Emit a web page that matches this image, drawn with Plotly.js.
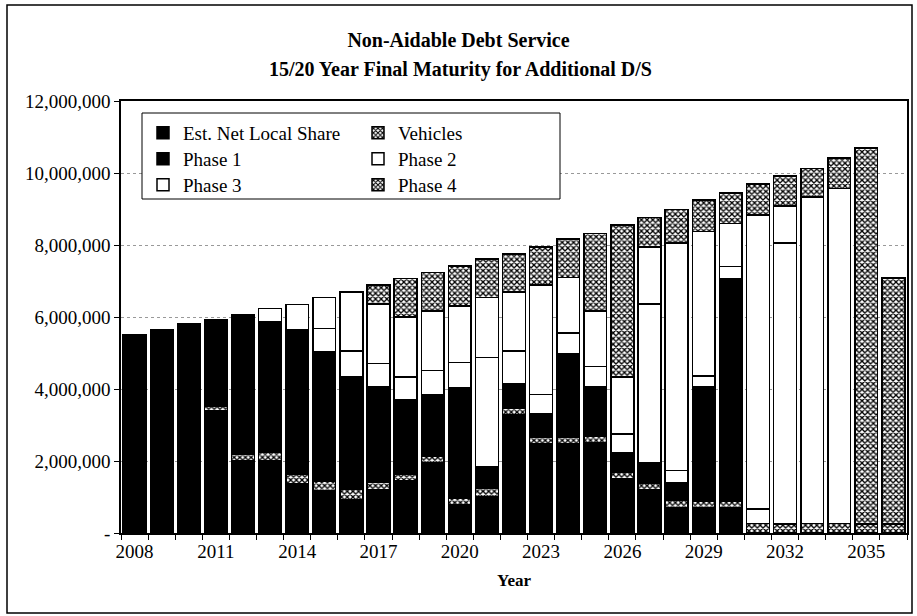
<!DOCTYPE html>
<html><head><meta charset="utf-8">
<script src="https://cdn.plot.ly/plotly-3.0.1.min.js"></script>
<style>html,body{margin:0;padding:0;background:#fff}</style>
</head><body><div id="chart" style="width:917px;height:616px"></div>
<script>
// Values in $ millions
const years = [2008,2009,2010,2011,2012,2013,2014,2015,2016,2017,2018,2019,2020,2021,2022,2023,2024,2025,2026,2027,2028,2029,2030,2031,2032,2033,2034,2035,2036];
const estNetLocalShare = [5.51,5.65,4.90,3.39,2.00,2.00,1.38,1.16,0.93,1.21,1.44,1.95,0.79,1.02,3.28,2.47,2.47,2.51,1.52,1.19,0.69,0.69,0.69,0,0,0,0,0,0];
const vehicles        = [0,0,0.05,0.13,0.18,0.25,0.26,0.28,0.28,0.20,0.18,0.17,0.18,0.23,0.18,0.19,0.19,0.18,0.18,0.19,0.23,0.18,0.18,0.27,0.25,0.27,0.27,0.25,0.25];
const phase1          = [0,0,0.85,2.39,3.89,3.62,4.01,3.59,3.13,2.65,2.09,1.71,3.07,0.58,0.68,0.66,2.33,1.37,0.53,0.56,0.48,3.18,6.19,0,0,0,0,0,0];
const phase2          = [0,0,0,0,0,0.36,0.70,0.65,0.71,0.65,0.63,0.68,0.69,3.04,0.92,0.53,0.56,0.56,0.52,4.42,0.33,0.31,0.34,0.39,7.80,0,0,0,0];
const phase3          = [0,0,0,0,0,0,0,0.86,1.65,1.65,1.66,1.66,1.58,1.67,1.64,3.04,1.55,1.55,1.59,1.58,6.33,4.01,1.20,8.17,1.03,9.07,9.30,0,0];
const phase4          = [0,0,0,0,0,0,0,0,0,0.53,1.07,1.07,1.10,1.07,1.05,1.05,1.06,2.15,4.22,0.83,0.93,0.88,0.85,0.86,0.84,0.79,0.84,10.44,6.84];

const seriesNames = ['Est. Net Local Share','Vehicles','Phase 1','Phase 2','Phase 3','Phase 4'];
const yTickVals = [0,2000000,4000000,6000000,8000000,10000000,12000000];
const yTickText = ['-','2,000,000','4,000,000','6,000,000','8,000,000','10,000,000','12,000,000'];
const xTickVals = [2008,2011,2014,2017,2020,2023,2026,2029,2032,2035];

const FONT = "'Liberation Serif', 'DejaVu Serif', serif";
const toDollars = a => a.map(v => v * 1e6);

const solid = c => ({color: c, line: {color: '#000', width: 1.5}});
const hatch = () => ({color: '#fff', line: {color: '#000', width: 1.5},
  pattern: {shape: 'x', fgcolor: '#000', bgcolor: '#fff', size: 4, solidity: 0.55}});

const data = [
  {name: seriesNames[0], y: toDollars(estNetLocalShare), marker: solid('#000'), legend: 'legend'},
  {name: seriesNames[1], y: toDollars(vehicles), marker: hatch(), legend: 'legend2'},
  {name: seriesNames[2], y: toDollars(phase1), marker: solid('#000'), legend: 'legend3'},
  {name: seriesNames[3], y: toDollars(phase2), marker: solid('#fff'), legend: 'legend4'},
  {name: seriesNames[4], y: toDollars(phase3), marker: solid('#fff'), legend: 'legend5'},
  {name: seriesNames[5], y: toDollars(phase4), marker: hatch(), legend: 'legend6'}
].map(t => Object.assign({type: 'bar', x: years, hoverinfo: 'x+y+name'}, t));

// plot area: x 121..907, y 101..533 px
const L = 121, R = 907, T = 101, B = 533, W = 917, H = 616;
const px = X => (X - L) / (R - L);
const py = Y => (B - Y) / (B - T);

const legFont = {family: FONT, size: 19, color: '#000'};
const mkLeg = (X, Y) => ({x: px(X), y: py(Y), xanchor: 'left', yanchor: 'middle',
  bgcolor: 'rgba(0,0,0,0)', borderwidth: 0, font: legFont});

const layout = {
  width: W, height: H,
  margin: {l: L, r: W - R, t: T, b: H - B},
  paper_bgcolor: '#fff', plot_bgcolor: '#fff',
  barmode: 'stack', bargap: 0.16,
  font: {family: FONT, color: '#000', size: 19},
  title: {text: '<b>Non-Aidable Debt Service</b>', font: {family: FONT, size: 20, color: '#000'},
    x: 0.5, xref: 'container', y: 1 - 40 / H, yref: 'container', yanchor: 'middle'},
  annotations: [{text: '<b>15/20 Year Final Maturity for Additional D/S</b>', xref: 'paper', yref: 'paper',
    x: px(460), y: py(70), xanchor: 'center', yanchor: 'middle', showarrow: false,
    font: {family: FONT, size: 20, color: '#000'}}],
  xaxis: {
    range: [2007.5, 2036.5], tickvals: xTickVals, ticktext: xTickVals.map(String),
    ticks: '', showline: true, linecolor: '#000', linewidth: 1.5, mirror: true,
    showgrid: false, zeroline: false, tickfont: {family: FONT, size: 19, color: '#000'},
    minor: {tickvals: years.map(y => y - 0.5).concat([2036.5]), ticks: 'outside', ticklen: 5, tickcolor: '#000', showgrid: false},
    title: {text: '<b>Year</b>', font: {family: FONT, size: 17, color: '#000'}, standoff: 14}
  },
  yaxis: {
    range: [0, 12000000], tickvals: yTickVals, ticktext: yTickText,
    ticks: 'outside', ticklen: 5, tickcolor: '#000',
    showline: true, linecolor: '#000', linewidth: 1.5, mirror: true,
    showgrid: true, gridcolor: '#999', griddash: 'dot', gridwidth: 1, zeroline: false,
    tickfont: {family: FONT, size: 19, color: '#000'}
  },
  showlegend: true,
  legend:  mkLeg(143, 133),
  legend2: mkLeg(358, 133),
  legend3: mkLeg(143, 159),
  legend4: mkLeg(358, 159),
  legend5: mkLeg(143, 185),
  legend6: mkLeg(358, 185),
  shapes: [
    {type: 'rect', xref: 'paper', yref: 'paper', x0: px(142), x1: px(560), y0: py(199), y1: py(113),
      line: {color: '#000', width: 1}, fillcolor: '#fff', layer: 'above'},
    {type: 'rect', xref: 'paper', yref: 'paper', x0: px(7), x1: px(912), y0: py(613), y1: py(5),
      line: {color: '#000', width: 1.5}, fillcolor: 'rgba(0,0,0,0)', layer: 'above'}
  ]
};

Plotly.newPlot('chart', data, layout, {displayModeBar: false, responsive: false});
</script>
</body></html>
